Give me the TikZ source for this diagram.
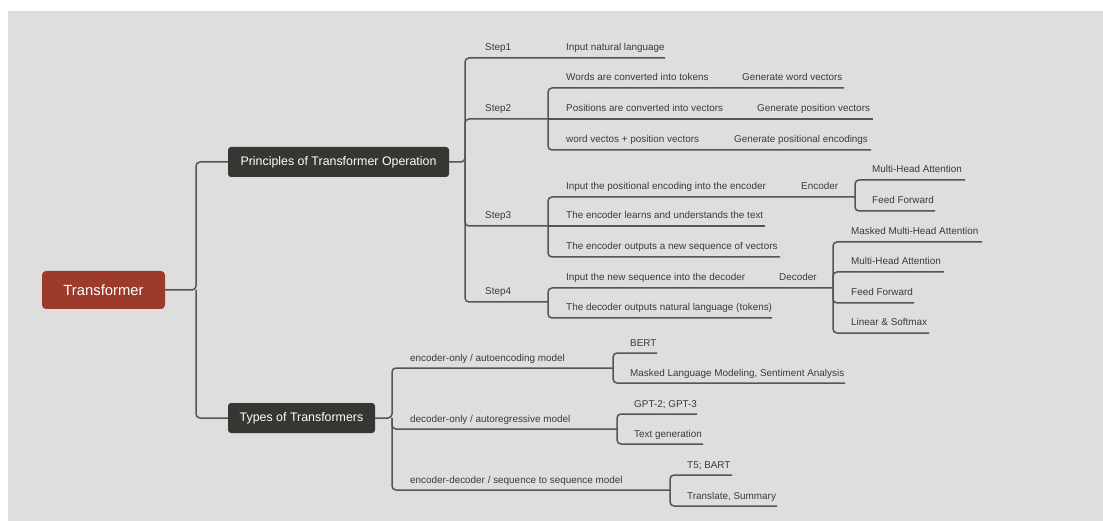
\documentclass[tikz,border=0pt]{standalone}
\usepackage{fontspec}
\setmainfont{Liberation Sans}
\definecolor{bgc}{HTML}{DEDEDE}
\definecolor{linec}{HTML}{555555}
\definecolor{txtc}{HTML}{3A3A3A}
\definecolor{rootc}{HTML}{9C3B2B}
\definecolor{darkbox}{HTML}{363632}
\begin{document}
\begin{tikzpicture}[x=1pt,y=-1pt,
  conn/.style={draw=linec, line width=1.5pt, rounded corners=4pt},
  lbl/.style={anchor=base west, inner sep=0pt, text=txtc, font=\fontsize{9.9}{11}\selectfont},
  mainbox/.style={fill=darkbox, text=white, rounded corners=3pt, font=\fontsize{12.4}{14}\selectfont, minimum height=30pt, inner sep=0pt},
  rootbox/.style={fill=rootc, text=white, rounded corners=4pt, font=\fontsize{14.8}{17}\selectfont, minimum height=38pt, minimum width=123pt, inner sep=0pt}
]
\useasboundingbox (0,0) rectangle (1103,521);
\fill[white] (0,0) rectangle (1103,521);
\fill[bgc] (8,11) rectangle (1103,521);

% main nodes
\node[rootbox] (R) at (103.5,290) {Transformer};
\node[mainbox, minimum width=221pt] (P) at (338.5,162) {Principles of Transformer Operation};
\node[mainbox, minimum width=147pt] (T) at (301.5,418) {Types of Transformers};

% junctions
\coordinate (jA) at (196,290);
\coordinate (jP) at (465,162);
\coordinate (jT) at (392,418);
\coordinate (j2) at (548,119);
\coordinate (j3) at (548,226);
\coordinate (j4) at (548,302);
\coordinate (jE) at (855,197);
\coordinate (jD) at (833,288);
\coordinate (jT1) at (613,368);
\coordinate (jT2) at (617,429);
\coordinate (jT3) at (670,490);

% line ends
\coordinate (e1) at (665,58);
\coordinate (e21) at (844,88);
\coordinate (e22) at (873,119);
\coordinate (e23) at (871,150);
\coordinate (e32) at (765,226);
\coordinate (e33) at (780,257);
\coordinate (eE1) at (965,180);
\coordinate (eE2) at (935,211);
\coordinate (e42) at (772,318);
\coordinate (eD1) at (982,242);
\coordinate (eD2) at (944,272);
\coordinate (eD3) at (914,303);
\coordinate (eD4) at (929,333);
\coordinate (eB1) at (657,353);
\coordinate (eB2) at (845,383);
\coordinate (eG1) at (697,414);
\coordinate (eG2) at (703,444);
\coordinate (eS1) at (732,475);
\coordinate (eS2) at (777,506);

% labels
\node[lbl] (s1) at (485,51) {Step1};
\node[lbl] (s2) at (485,112) {Step2};
\node[lbl] (s3) at (485,219) {Step3};
\node[lbl] (s4) at (485,295) {Step4};
\node[lbl] (a1) at (566,51) {Input natural language};
\node[lbl] (a21) at (566,81) {Words are converted into tokens};
\node[lbl] (b21) at (742,81) {Generate word vectors};
\node[lbl] (a22) at (566,112) {Positions are converted into vectors};
\node[lbl] (b22) at (757,112) {Generate position vectors};
\node[lbl] (a23) at (566,143) {word vectos + position vectors};
\node[lbl] (b23) at (734,143) {Generate positional encodings};
\node[lbl] (a31) at (566,190) {Input the positional encoding into the encoder};
\node[lbl] (enc) at (801,190) {Encoder};
\node[lbl] (m1) at (872,173) {Multi-Head Attention};
\node[lbl] (f1) at (872,204) {Feed Forward};
\node[lbl] (a32) at (566,219) {The encoder learns and understands the text};
\node[lbl] (a33) at (566,250) {The encoder outputs a new sequence of vectors};
\node[lbl] (a41) at (566,281) {Input the new sequence into the decoder};
\node[lbl] (dec) at (779,281) {Decoder};
\node[lbl] (a42) at (566,311) {The decoder outputs natural language (tokens)};
\node[lbl] (d1) at (851,235) {Masked Multi-Head Attention};
\node[lbl] (d2) at (851,265) {Multi-Head Attention};
\node[lbl] (d3) at (851,296) {Feed Forward};
\node[lbl] (d4) at (851,326) {Linear \& Softmax};
\node[lbl] (t1) at (410,361) {encoder-only / autoencoding model};
\node[lbl] (t2) at (410,422) {decoder-only / autoregressive model};
\node[lbl] (t3) at (410,483) {encoder-decoder / sequence to sequence model};
\node[lbl] (u1) at (630,346) {BERT};
\node[lbl] (u2) at (630,376) {Masked Language Modeling, Sentiment Analysis};
\node[lbl] (v1) at (634,407) {GPT-2; GPT-3};
\node[lbl] (v2) at (634,437) {Text generation};
\node[lbl] (w1) at (687,468) {T5; BART};
\node[lbl] (w2) at (687,499) {Translate, Summary};

% connectors
\draw[conn] (R.east) -- (jA) |- (P.west);
\draw[conn] (jA) |- (T.west);
\draw[conn] (P.east) -- (jP) |- (e1);
\draw[conn] (jP) |- (j2);
\draw[conn] (jP) |- (j3);
\draw[conn] (jP) |- (j4);
\draw[conn] (j2) |- (e21);
\draw[conn] (j2) -- (e22);
\draw[conn] (j2) |- (e23);
\draw[conn] (j3) |- (jE);
\draw[conn] (j3) -- (e32);
\draw[conn] (j3) |- (e33);
\draw[conn] (jE) |- (eE1);
\draw[conn] (jE) |- (eE2);
\draw[conn] (j4) |- (jD);
\draw[conn] (j4) |- (e42);
\draw[conn] (jD) |- (eD1);
\draw[conn] (jD) |- (eD2);
\draw[conn] (jD) |- (eD3);
\draw[conn] (jD) |- (eD4);
\draw[conn] (T.east) -- (jT) |- (jT1);
\draw[conn] (jT) |- (jT2);
\draw[conn] (jT) |- (jT3);
\draw[conn] (jT1) |- (eB1);
\draw[conn] (jT1) |- (eB2);
\draw[conn] (jT2) |- (eG1);
\draw[conn] (jT2) |- (eG2);
\draw[conn] (jT3) |- (eS1);
\draw[conn] (jT3) |- (eS2);
\end{tikzpicture}
\end{document}
